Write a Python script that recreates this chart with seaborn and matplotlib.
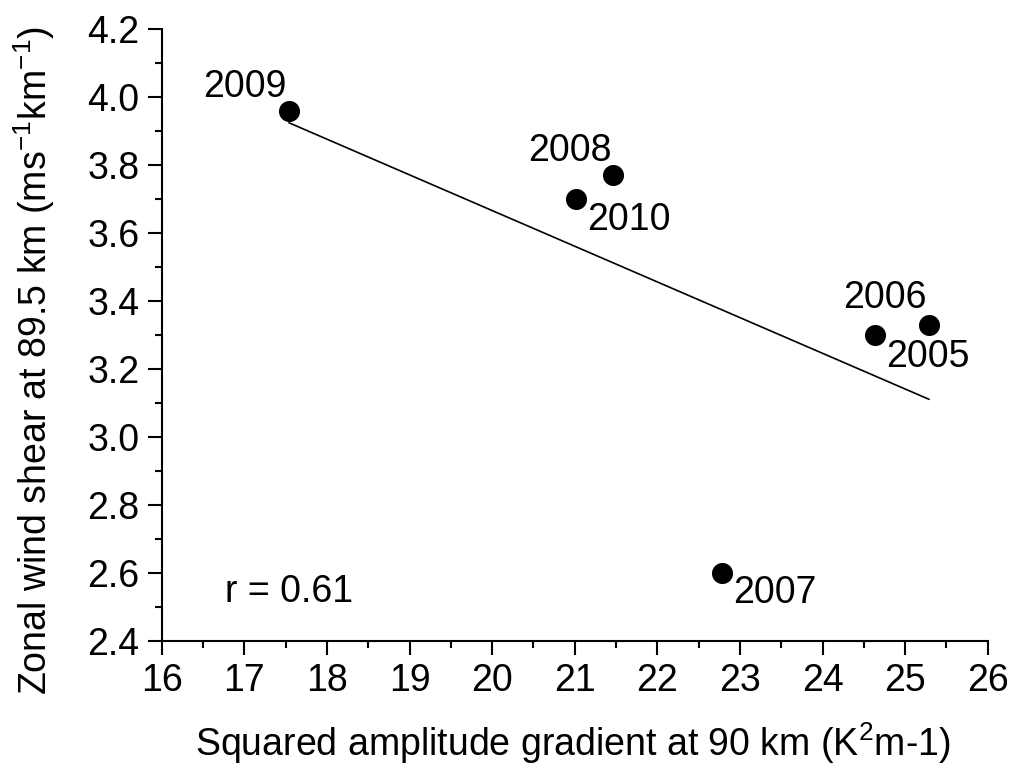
import numpy as np
import pandas as pd
import matplotlib
matplotlib.use("Agg")
import matplotlib.pyplot as plt
import seaborn as sns
from matplotlib.ticker import MultipleLocator, FormatStrFormatter

# data
years = ["2009", "2008", "2010", "2005", "2006", "2007"]
amp_gradient = [17.54, 21.46, 21.02, 24.64, 25.29, 22.78]
wind_shear = [3.96, 3.77, 3.70, 3.30, 3.33, 2.60]
r_text = "r = 0.61"

# label placement (offsets in points, alignment)
label_offsets = {
    "2009": ((-1.5, 10), "right"),
    "2008": ((-1.0, 10), "right"),
    "2010": ((8, -22), "left"),
    "2005": ((8, -23), "left"),
    "2006": ((-1.5, 12), "right"),
    "2007": ((8, -21.5), "left"),
}

df = pd.DataFrame({"year": years, "x": amp_gradient, "y": wind_shear})

sns.set_theme(style="ticks")
plt.rcParams["font.family"] = ["Liberation Sans", "DejaVu Sans"]
plt.rcParams["mathtext.default"] = "regular"
plt.rcParams["text.color"] = "black"
plt.rcParams["axes.labelcolor"] = "black"
plt.rcParams["xtick.color"] = "black"
plt.rcParams["ytick.color"] = "black"

fig = plt.figure(figsize=(10.11, 7.69), dpi=100)
ax = fig.add_axes([0.160, 0.1664, 0.817, 0.7959])

sns.scatterplot(data=df, x="x", y="y", ax=ax, s=230, color="black",
                edgecolor="black", linewidth=0, zorder=3)

# linear fit over all points
slope, intercept = np.polyfit(df["x"], df["y"], 1)
xs = np.array([df["x"].min(), df["x"].max()])
sns.lineplot(x=xs, y=slope * xs + intercept, ax=ax, color="black",
             linewidth=1.2, zorder=2)

for yr, xv, yv in zip(years, amp_gradient, wind_shear):
    off, ha = label_offsets[yr]
    ax.annotate(yr, (xv, yv), xytext=off, textcoords="offset points",
                ha=ha, va="baseline", fontsize=27, color="black")

ax.text(0.076, 0.064, r_text, transform=ax.transAxes, fontsize=27,
        ha="left", va="baseline", color="black")

ax.set_xlim(16, 26)
ax.set_ylim(2.4, 4.2)
ax.xaxis.set_major_locator(MultipleLocator(1))
ax.xaxis.set_minor_locator(MultipleLocator(0.5))
ax.yaxis.set_major_locator(MultipleLocator(0.2))
ax.yaxis.set_minor_locator(MultipleLocator(0.1))
ax.yaxis.set_major_formatter(FormatStrFormatter("%.1f"))

ax.tick_params(which="major", direction="out", length=10, width=1.5,
               labelsize=27, pad=6, color="black", labelcolor="black")
ax.tick_params(which="minor", direction="out", length=5, width=1.5,
               color="black")
for s in ["left", "bottom"]:
    ax.spines[s].set_linewidth(1.5)
    ax.spines[s].set_color("black")
sns.despine(ax=ax)

ax.set_xlabel("Squared amplitude gradient at 90 km (K$^{2}$m-1)",
              fontsize=27, color="black")
ax.set_ylabel("Zonal wind shear at 89.5 km (ms$^{-1}$km$^{-1}$)",
              fontsize=27, color="black")
ax.xaxis.set_label_coords(0.4975, -0.130)
ax.yaxis.set_label_coords(-0.127, 0.4575)

fig.savefig("out.png", dpi=100)
